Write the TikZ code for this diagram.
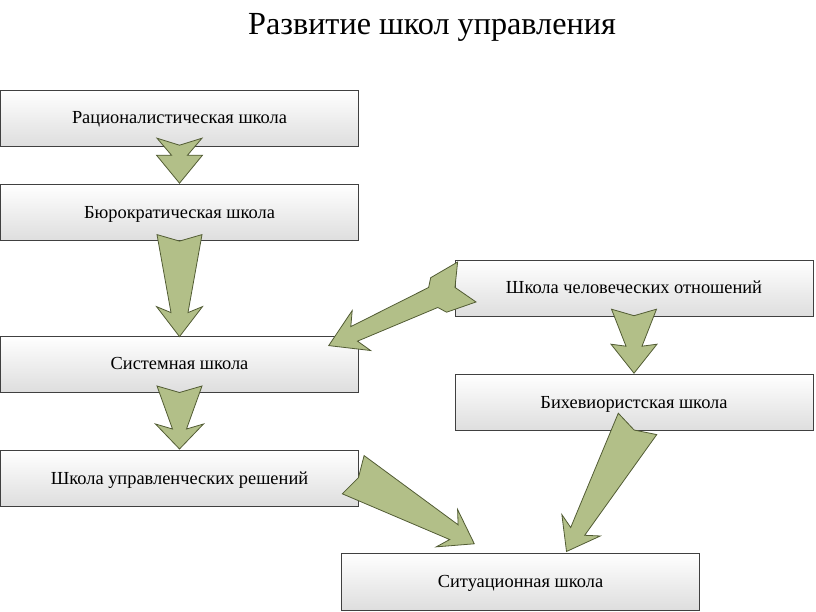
\documentclass[tikz,border=0pt]{standalone}
\usepackage{fontspec}
\setmainfont{Liberation Serif}
\usepackage{tikz}
\usetikzlibrary{positioning, calc}
\definecolor{arrowgreen}{RGB}{178,191,136}
\definecolor{arrowline}{RGB}{82,92,52}
\tikzset{
    school/.style={rectangle, minimum width=358pt, minimum height=56pt, text centered, draw=black!75, top color=white, bottom color=black!13, font=\fontsize{18.4}{22}\selectfont, text height=14pt, text depth=2pt},
    heading/.style={font=\fontsize{32.2}{38}\selectfont, anchor=base},
    fatarrow/.style={fill=arrowgreen, draw=arrowline, line width=0.8pt, line join=miter},
}
\pgfkeys{/fa/.cd,
    tail/.store in=\fatail, notch/.store in=\fanotch,
    neck/.store in=\faneck, head/.store in=\fahead,
    back/.store in=\faback, barb/.store in=\fabarb,
    feather/.store in=\fafeather, featherw/.store in=\fafw,
    stepat/.store in=\fastep, stepw/.store in=\fasw,
    tail=22.5, notch=6.5, neck=8, head=24, back=5, barb=23,
    feather=0, featherw=\fatail, stepat=0, stepw=\fatail}
% wide arrow from tail point to tip point
\newcommand{\fatarrow}[3][]{%
    \path let \p1=(#2), \p2=(#3) in
        \pgfextra{\pgfmathsetmacro\faang{atan2(\y2-\y1,\x2-\x1)}%
            \pgfmathsetmacro\falen{veclen(\x2-\x1,\y2-\y1)}%
            \global\let\faang\faang \global\let\falen\falen};
    \begin{scope}[shift={(#2)}, rotate=\faang, x=1pt, y=1pt]
        \pgfkeys{/fa/.cd,#1}
        \filldraw[fatarrow] (0,\fatail) -- (\fafeather,\fafw) -- (\fastep,\fasw)
            -- ({\falen-\fahead},\faneck) -- ({\falen-\fahead-\faback},\fabarb) -- (\falen,0)
            -- ({\falen-\fahead-\faback},-\fabarb) -- ({\falen-\fahead},-\faneck)
            -- (\fastep,-\fasw) -- (\fafeather,-\fafw) -- (0,-\fatail) -- (\fanotch,0) -- cycle;
    \end{scope}}

\begin{document}
\begin{tikzpicture}[x=1pt, y=1pt]
    \useasboundingbox (0,0) rectangle (816,-612);
    \node[heading] (title) at (432,-35) {Развитие школ управления};

    \node[school] (rat) at (179.5,-118) {Рационалистическая школа};
    \node[school, below=38pt of rat] (bur) {Бюрократическая школа};
    \node[school, below=95pt of bur] (sys) {Системная школа};
    \node[school, below=58pt of sys] (dec) {Школа управленческих решений};

    \node[school] (hum) at (634,-288) {Школа человеческих отношений};
    \node[school, below=58pt of hum] (beh) {Бихевиористская школа};
    \node[school, minimum height=57pt] (sit) at (520.5,-581.5) {Ситуационная школа};

    \fatarrow[head=28, back=0, notch=7]{[yshift=8pt]rat.south}{[yshift=1pt]bur.north}
    \fatarrow[head=24, back=6, neck=8.5]{[yshift=6pt]bur.south}{[yshift=-1pt]sys.north}
    \fatarrow[head=20, back=5, neck=7, barb=24]{[yshift=6pt]sys.south}{[yshift=1pt]dec.north}
    \fatarrow[head=27, back=2]{[yshift=7pt]hum.south}{[yshift=1pt]beh.north}
    \fatarrow[tail=22, notch=13, feather=31, featherw=19, stepat=37, stepw=11, head=28, back=8, barb=22]{[shift={(12pt,6pt)}]hum.west}{[shift={(-30pt,-10pt)}]sys.north east}
    \fatarrow[tail=22, notch=6, head=23.5, neck=8.5, back=8, barb=21.5]{[shift={(-5.5pt,3.5pt)}]dec.east}{[shift={(133pt,9pt)}]sit.north west}
    \fatarrow[tail=22, notch=7, head=23, back=7, barb=22]{[shift={(3.5pt,6.7pt)}]beh.south}{[shift={(46pt,1.3pt)}]sit.north}
\end{tikzpicture}
\end{document}
